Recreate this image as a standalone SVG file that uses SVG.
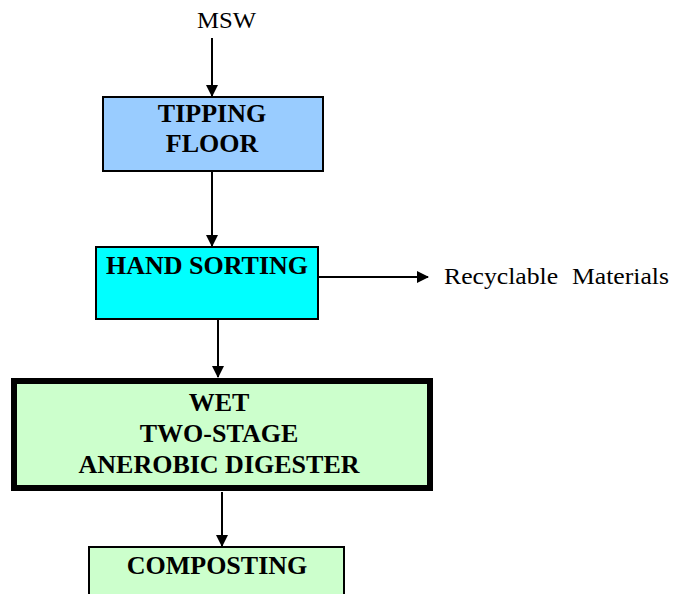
<svg xmlns="http://www.w3.org/2000/svg" width="673" height="594" viewBox="0 0 673 594">
<defs>
<style>
.t{font-family:"Liberation Serif","Times New Roman",serif;font-weight:bold;font-size:26px;fill:#000;text-anchor:middle}
.p{font-family:"Liberation Serif","Times New Roman",serif;font-size:24px;fill:#000}
.c{stroke:#000;stroke-width:2;fill:none}
</style>
<marker id="ah" markerWidth="12" markerHeight="12" refX="11" refY="6" orient="auto" markerUnits="userSpaceOnUse" viewBox="0 0 12 12">
<path d="M0,0 L12,6 L0,12 Z" fill="#000"/>
</marker>
</defs>
<rect width="673" height="594" fill="#fff"/>
<g id="connectors">
<line class="c" x1="212" y1="38" x2="212" y2="96" marker-end="url(#ah)"/>
<line class="c" x1="212" y1="172" x2="212" y2="246" marker-end="url(#ah)"/>
<line class="c" x1="319" y1="277" x2="428" y2="277" marker-end="url(#ah)"/>
<line class="c" x1="218" y1="320" x2="218" y2="377" marker-end="url(#ah)"/>
<line class="c" x1="222" y1="492" x2="222" y2="546" marker-end="url(#ah)"/>
</g>
<g id="msw"><text class="p" x="197" y="28" textLength="59" lengthAdjust="spacingAndGlyphs">MSW</text></g>
<g id="tipping">
<rect x="103" y="97" width="220" height="74" fill="#99CCFF" stroke="#000" stroke-width="2"/>
<text class="t" x="212" y="122">TIPPING</text>
<text class="t" x="212" y="152">FLOOR</text>
</g>
<g id="hand">
<rect x="96" y="247" width="222" height="72" fill="#00FFFF" stroke="#000" stroke-width="2"/>
<text class="t" x="207" y="274">HAND SORTING</text>
</g>
<g id="recyclable"><text class="p" x="444" y="284" textLength="225" lengthAdjust="spacingAndGlyphs" word-spacing="7">Recyclable Materials</text></g>
<g id="digester">
<rect x="14" y="381" width="416" height="107" fill="#CCFFCC" stroke="#000" stroke-width="6"/>
<text class="t" x="219" y="411">WET</text>
<text class="t" x="219" y="442">TWO-STAGE</text>
<text class="t" x="219" y="473">ANEROBIC DIGESTER</text>
</g>
<g id="composting">
<rect x="89" y="547" width="255" height="50" fill="#CCFFCC" stroke="#000" stroke-width="2"/>
<text class="t" x="217" y="574">COMPOSTING</text>
</g>
</svg>
